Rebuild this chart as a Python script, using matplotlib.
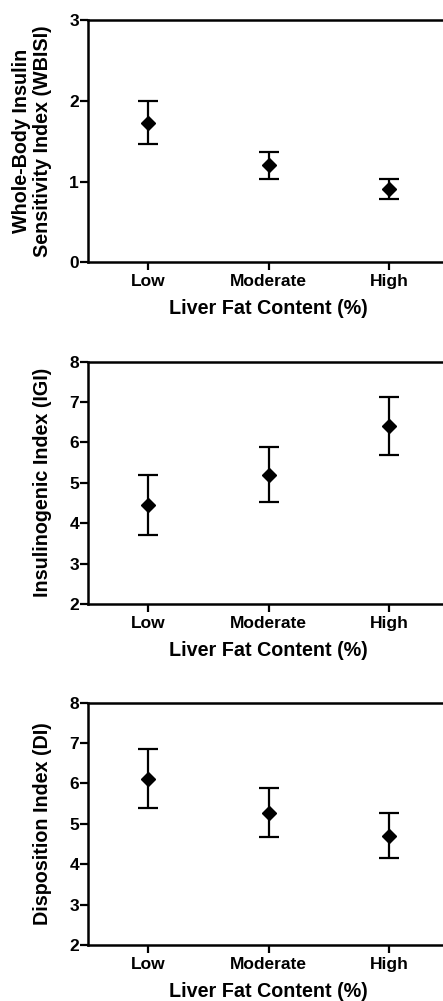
import numpy as np
import matplotlib
matplotlib.use("Agg")
import matplotlib.pyplot as plt

plt.rcParams['font.family'] = ['Liberation Sans', 'DejaVu Sans']
plt.rcParams['font.weight'] = 'bold'

groups = ['Low', 'Moderate', 'High']
xlabel = 'Liver Fat Content (%)'

# WBISI: mean, lower, upper
wbisi = [1.73, 1.20, 0.91]
wbisi_lo = [1.47, 1.03, 0.78]
wbisi_hi = [2.00, 1.37, 1.03]

# IGI
igi = [4.45, 5.20, 6.41]
igi_lo = [3.72, 4.52, 5.70]
igi_hi = [5.19, 5.90, 7.12]

# DI
di = [6.12, 5.27, 4.71]
di_lo = [5.39, 4.67, 4.15]
di_hi = [6.85, 5.90, 5.28]

panels = [
    (wbisi, wbisi_lo, wbisi_hi, 'Whole-Body Insulin\nSensitivity Index (WBISI)', (0, 3), [0, 1, 2, 3]),
    (igi, igi_lo, igi_hi, 'Insulinogenic Index (IGI)', (2, 8), [2, 3, 4, 5, 6, 7, 8]),
    (di, di_lo, di_hi, 'Disposition Index (DI)', (2, 8), [2, 3, 4, 5, 6, 7, 8]),
]

W, H = 443, 1001
fig = plt.figure(figsize=(W / 100, H / 100), dpi=100)

# pixel boxes (left, top, right, bottom)
boxes = [(88, 20, 449, 262.3), (88, 361.7, 449, 604), (88, 702.7, 449, 945)]

for (m, lo, hi, ylab, ylim, yt), (l, t, r, b) in zip(panels, boxes):
    ax = fig.add_axes([l / W, 1 - b / H, (r - l) / W, (b - t) / H])
    x = np.arange(len(groups))
    m = np.array(m)
    err = [m - np.array(lo), np.array(hi) - m]
    ax.errorbar(x, m, yerr=err, fmt='D', color='black', markersize=7.5,
                elinewidth=1.6, capsize=7, capthick=1.6, clip_on=False)
    ax.set_xlim(-0.5, 2.5)
    ax.set_ylim(*ylim)
    ax.set_yticks(yt)
    ax.set_xticks(x)
    ax.set_xticklabels(groups)
    for s in ['left', 'bottom', 'top', 'right']:
        ax.spines[s].set_linewidth(1.8)
    ax.tick_params(axis='both', width=1.6, length=5.5, labelsize=12.5)
    ax.tick_params(axis='y', pad=1)
    ax.tick_params(axis='x', pad=3)
    for lab in ax.get_xticklabels() + ax.get_yticklabels():
        lab.set_fontweight('bold')
    ax.set_xlabel(xlabel, fontsize=14.2, fontweight='bold', labelpad=7)
    ax.set_ylabel(ylab, fontsize=14.2, fontweight='bold', linespacing=1.1)
    ax.yaxis.set_label_coords(-0.1, 0.5)

fig.savefig('out.png', dpi=100)
